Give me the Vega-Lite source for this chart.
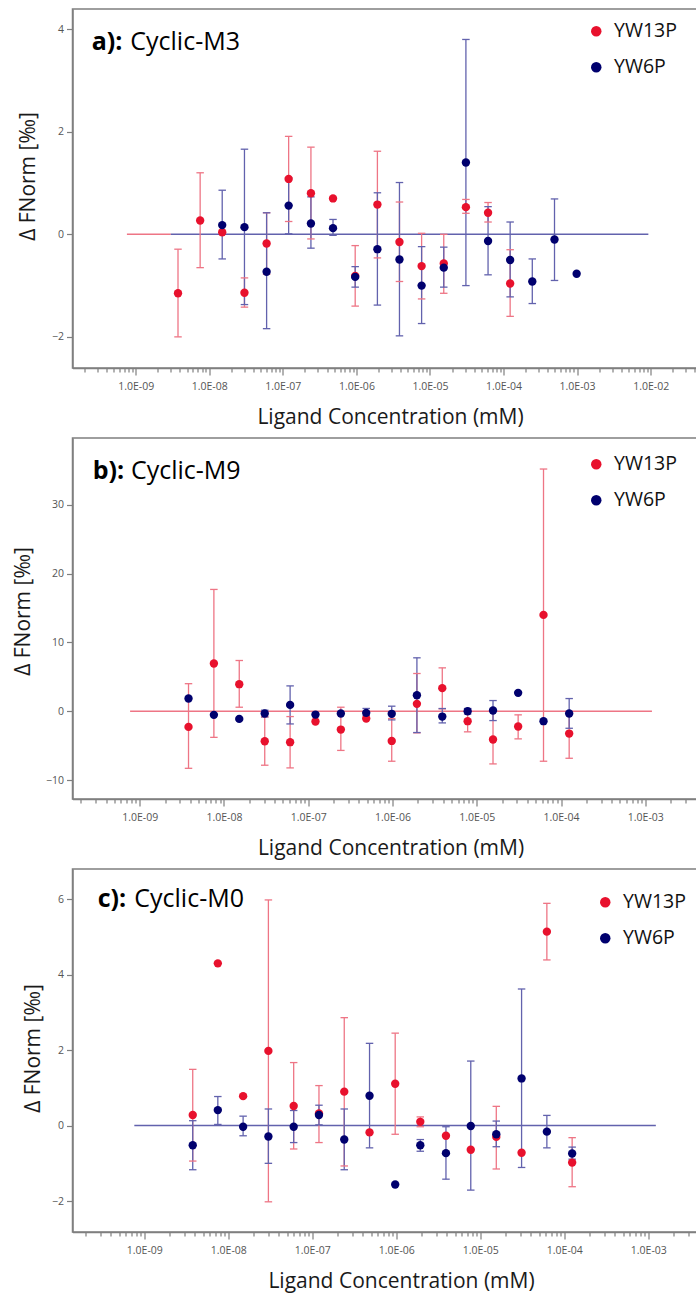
{
  "$schema": "https://vega.github.io/schema/vega-lite/v6.json",
  "background": "white",
  "padding": {"left": 11.5, "top": 8, "right": 0, "bottom": 0},
  "config": {
    "view": {"stroke": "#7f7f7f", "strokeWidth": 1.5},
    "axis": {"domainColor": "#7f7f7f", "domainWidth": 1.5, "tickColor": "#7f7f7f", "tickWidth": 1.2, "labelFont": "Open Sans", "labelFontSize": 10.5, "labelColor": "#555555", "titleFont": "Open Sans", "titleFontSize": 21, "titleFontWeight": "normal", "titleColor": "#1a1a1a", "grid": false}
  },
  "datasets": {
    "a_fit": [
      {"series": "YW13P", "x1": 7.6e-10, "x2": 3.0e-9, "y": 0},
      {"series": "YW6P", "x1": 3.0e-9, "x2": 9.3e-3, "y": 0}
    ],
    "a_pts": [
      {"conc": 3.76e-9, "series": "YW13P", "value": -1.15, "lo": -2.0, "hi": -0.29},
      {"conc": 7.52e-9, "series": "YW13P", "value": 0.27, "lo": -0.65, "hi": 1.2},
      {"conc": 1.5e-8, "series": "YW13P", "value": 0.04, "lo": null, "hi": null},
      {"conc": 3.01e-8, "series": "YW13P", "value": -1.14, "lo": -1.42, "hi": -0.85},
      {"conc": 6.02e-8, "series": "YW13P", "value": -0.18, "lo": -0.78, "hi": 0.42},
      {"conc": 1.2e-7, "series": "YW13P", "value": 1.08, "lo": 0.25, "hi": 1.91},
      {"conc": 2.41e-7, "series": "YW13P", "value": 0.8, "lo": -0.09, "hi": 1.7},
      {"conc": 4.81e-7, "series": "YW13P", "value": 0.7, "lo": null, "hi": null},
      {"conc": 9.63e-7, "series": "YW13P", "value": -0.81, "lo": -1.4, "hi": -0.22},
      {"conc": 1.93e-6, "series": "YW13P", "value": 0.58, "lo": -0.46, "hi": 1.62},
      {"conc": 3.85e-6, "series": "YW13P", "value": -0.15, "lo": -0.92, "hi": 0.63},
      {"conc": 7.7e-6, "series": "YW13P", "value": -0.62, "lo": -1.26, "hi": 0.02},
      {"conc": 1.54e-5, "series": "YW13P", "value": -0.57, "lo": -1.15, "hi": 0.0},
      {"conc": 3.08e-5, "series": "YW13P", "value": 0.53, "lo": 0.41, "hi": 0.68},
      {"conc": 6.16e-5, "series": "YW13P", "value": 0.42, "lo": 0.24, "hi": 0.62},
      {"conc": 1.23e-4, "series": "YW13P", "value": -0.96, "lo": -1.6, "hi": -0.3},
      {"conc": 1.5e-8, "series": "YW6P", "value": 0.18, "lo": -0.48, "hi": 0.86},
      {"conc": 3.01e-8, "series": "YW6P", "value": 0.14, "lo": -1.37, "hi": 1.66},
      {"conc": 6.02e-8, "series": "YW6P", "value": -0.73, "lo": -1.84, "hi": 0.42},
      {"conc": 1.2e-7, "series": "YW6P", "value": 0.56, "lo": 0.01, "hi": 1.1},
      {"conc": 2.41e-7, "series": "YW6P", "value": 0.21, "lo": -0.27, "hi": 0.73},
      {"conc": 4.81e-7, "series": "YW6P", "value": 0.12, "lo": -0.02, "hi": 0.29},
      {"conc": 9.63e-7, "series": "YW6P", "value": -0.83, "lo": -1.03, "hi": -0.63},
      {"conc": 1.93e-6, "series": "YW6P", "value": -0.29, "lo": -1.38, "hi": 0.81},
      {"conc": 3.85e-6, "series": "YW6P", "value": -0.49, "lo": -1.98, "hi": 1.01},
      {"conc": 7.7e-6, "series": "YW6P", "value": -1.0, "lo": -1.74, "hi": -0.24},
      {"conc": 1.54e-5, "series": "YW6P", "value": -0.65, "lo": -1.03, "hi": -0.25},
      {"conc": 3.08e-5, "series": "YW6P", "value": 1.4, "lo": -1.0, "hi": 3.8},
      {"conc": 6.16e-5, "series": "YW6P", "value": -0.13, "lo": -0.79, "hi": 0.54},
      {"conc": 1.23e-4, "series": "YW6P", "value": -0.5, "lo": -1.22, "hi": 0.24},
      {"conc": 2.46e-4, "series": "YW6P", "value": -0.92, "lo": -1.35, "hi": -0.48},
      {"conc": 4.93e-4, "series": "YW6P", "value": -0.1, "lo": -0.9, "hi": 0.69},
      {"conc": 9.86e-4, "series": "YW6P", "value": -0.77, "lo": null, "hi": null}
    ],
    "b_fit": [
      {"series": "YW13P", "x1": 7.7e-10, "x2": 1.2e-3, "y": 0}
    ],
    "b_pts": [
      {"conc": 3.8e-9, "series": "YW13P", "value": -2.28, "lo": -8.3, "hi": 4.0},
      {"conc": 7.6e-9, "series": "YW13P", "value": 6.93, "lo": -3.8, "hi": 17.7},
      {"conc": 1.52e-8, "series": "YW13P", "value": 3.93, "lo": 0.58, "hi": 7.37},
      {"conc": 3.05e-8, "series": "YW13P", "value": -4.36, "lo": -7.85, "hi": -0.8},
      {"conc": 6.1e-8, "series": "YW13P", "value": -4.5, "lo": -8.24, "hi": -0.78},
      {"conc": 1.22e-7, "series": "YW13P", "value": -1.5, "lo": null, "hi": null},
      {"conc": 2.44e-7, "series": "YW13P", "value": -2.67, "lo": -5.7, "hi": 0.58},
      {"conc": 4.88e-7, "series": "YW13P", "value": -1.07, "lo": null, "hi": null},
      {"conc": 9.8e-7, "series": "YW13P", "value": -4.32, "lo": -7.27, "hi": -1.07},
      {"conc": 1.95e-6, "series": "YW13P", "value": 1.07, "lo": -3.15, "hi": 5.48},
      {"conc": 3.9e-6, "series": "YW13P", "value": 3.35, "lo": 0.34, "hi": 6.3},
      {"conc": 7.8e-6, "series": "YW13P", "value": -1.45, "lo": -3.0, "hi": 0.1},
      {"conc": 1.56e-5, "series": "YW13P", "value": -4.12, "lo": -7.66, "hi": 0.0},
      {"conc": 3.1e-5, "series": "YW13P", "value": -2.23, "lo": -4.02, "hi": -0.53},
      {"conc": 6.2e-5, "series": "YW13P", "value": 14.0, "lo": -7.27, "hi": 35.2},
      {"conc": 1.25e-4, "series": "YW13P", "value": -3.25, "lo": -6.84, "hi": -0.15},
      {"conc": 3.8e-9, "series": "YW6P", "value": 1.84, "lo": null, "hi": null},
      {"conc": 7.6e-9, "series": "YW6P", "value": -0.53, "lo": null, "hi": null},
      {"conc": 1.52e-8, "series": "YW6P", "value": -1.12, "lo": null, "hi": null},
      {"conc": 3.05e-8, "series": "YW6P", "value": -0.34, "lo": -0.85, "hi": 0.15},
      {"conc": 6.1e-8, "series": "YW6P", "value": 0.92, "lo": -1.85, "hi": 3.68},
      {"conc": 1.22e-7, "series": "YW6P", "value": -0.49, "lo": null, "hi": null},
      {"conc": 2.44e-7, "series": "YW6P", "value": -0.34, "lo": null, "hi": null},
      {"conc": 4.88e-7, "series": "YW6P", "value": -0.24, "lo": -0.6, "hi": 0.4},
      {"conc": 9.8e-7, "series": "YW6P", "value": -0.38, "lo": -1.26, "hi": 0.73},
      {"conc": 1.95e-6, "series": "YW6P", "value": 2.33, "lo": -3.1, "hi": 7.76},
      {"conc": 3.9e-6, "series": "YW6P", "value": -0.78, "lo": -1.7, "hi": 0.39},
      {"conc": 7.8e-6, "series": "YW6P", "value": 0.0, "lo": -0.4, "hi": 0.4},
      {"conc": 1.56e-5, "series": "YW6P", "value": 0.1, "lo": -1.36, "hi": 1.55},
      {"conc": 3.1e-5, "series": "YW6P", "value": 2.67, "lo": null, "hi": null},
      {"conc": 6.2e-5, "series": "YW6P", "value": -1.45, "lo": null, "hi": null},
      {"conc": 1.25e-4, "series": "YW6P", "value": -0.34, "lo": -2.48, "hi": 1.84}
    ],
    "c_fit": [
      {"series": "YW6P", "x1": 7.6e-10, "x2": 1.23e-3, "y": 0}
    ],
    "c_pts": [
      {"conc": 3.77e-9, "series": "YW13P", "value": 0.28, "lo": -0.94, "hi": 1.49},
      {"conc": 7.5e-9, "series": "YW13P", "value": 4.3, "lo": null, "hi": null},
      {"conc": 1.5e-8, "series": "YW13P", "value": 0.78, "lo": null, "hi": null},
      {"conc": 3.0e-8, "series": "YW13P", "value": 1.98, "lo": -2.02, "hi": 5.98},
      {"conc": 6.0e-8, "series": "YW13P", "value": 0.52, "lo": -0.62, "hi": 1.67},
      {"conc": 1.2e-7, "series": "YW13P", "value": 0.32, "lo": -0.45, "hi": 1.06},
      {"conc": 2.4e-7, "series": "YW13P", "value": 0.9, "lo": -1.07, "hi": 2.86},
      {"conc": 4.8e-7, "series": "YW13P", "value": -0.18, "lo": null, "hi": null},
      {"conc": 9.7e-7, "series": "YW13P", "value": 1.11, "lo": -0.23, "hi": 2.45},
      {"conc": 1.93e-6, "series": "YW13P", "value": 0.1, "lo": -0.03, "hi": 0.23},
      {"conc": 3.9e-6, "series": "YW13P", "value": -0.27, "lo": null, "hi": null},
      {"conc": 7.7e-6, "series": "YW13P", "value": -0.64, "lo": null, "hi": null},
      {"conc": 1.55e-5, "series": "YW13P", "value": -0.3, "lo": -1.15, "hi": 0.51},
      {"conc": 3.1e-5, "series": "YW13P", "value": -0.72, "lo": null, "hi": null},
      {"conc": 6.2e-5, "series": "YW13P", "value": 5.14, "lo": 4.39, "hi": 5.89},
      {"conc": 1.24e-4, "series": "YW13P", "value": -0.98, "lo": -1.62, "hi": -0.32},
      {"conc": 3.77e-9, "series": "YW6P", "value": -0.52, "lo": -1.17, "hi": 0.13},
      {"conc": 7.5e-9, "series": "YW6P", "value": 0.41, "lo": 0.03, "hi": 0.77},
      {"conc": 1.5e-8, "series": "YW6P", "value": -0.03, "lo": -0.27, "hi": 0.25},
      {"conc": 3.0e-8, "series": "YW6P", "value": -0.29, "lo": -1.0, "hi": 0.44},
      {"conc": 6.0e-8, "series": "YW6P", "value": -0.03, "lo": -0.45, "hi": 0.4},
      {"conc": 1.2e-7, "series": "YW6P", "value": 0.28, "lo": 0.02, "hi": 0.54},
      {"conc": 2.4e-7, "series": "YW6P", "value": -0.37, "lo": -1.17, "hi": 0.44},
      {"conc": 4.8e-7, "series": "YW6P", "value": 0.79, "lo": -0.59, "hi": 2.18},
      {"conc": 9.7e-7, "series": "YW6P", "value": -1.56, "lo": null, "hi": null},
      {"conc": 1.93e-6, "series": "YW6P", "value": -0.52, "lo": -0.68, "hi": -0.37},
      {"conc": 3.9e-6, "series": "YW6P", "value": -0.73, "lo": -1.42, "hi": -0.03},
      {"conc": 7.7e-6, "series": "YW6P", "value": -0.01, "lo": -1.71, "hi": 1.71},
      {"conc": 1.55e-5, "series": "YW6P", "value": -0.23, "lo": -0.56, "hi": 0.12},
      {"conc": 3.1e-5, "series": "YW6P", "value": 1.25, "lo": -1.11, "hi": 3.62},
      {"conc": 6.2e-5, "series": "YW6P", "value": -0.16, "lo": -0.59, "hi": 0.27},
      {"conc": 1.24e-4, "series": "YW6P", "value": -0.74, "lo": -0.89, "hi": -0.57}
    ]
  },
  "columns": 1,
  "spacing": 8,
  "concat": [
    {
      "width": 627, "height": 359,
      "layer": [
        {
          "data": {"name": "a_fit"},
          "mark": {"type": "rule", "strokeWidth": 1.5},
          "encoding": {
            "x": {"field": "x1", "type": "quantitative",
              "scale": {"type": "log", "domain": [1.384e-10, 0.0461], "nice": false},
              "axis": {"title": "Ligand Concentration (mM)", "titlePadding": 15, "titleX": 317.5, "labelPadding": 6, "labelOverlap": false, "labelFlush": false, "labelBound": false,
                "values": [2e-10,3e-10,4e-10,5e-10,6e-10,7e-10,8e-10,9e-10,1e-9,2e-9,3e-9,4e-9,5e-9,6e-9,7e-9,8e-9,9e-9,1e-8,2e-8,3e-8,4e-8,5e-8,6e-8,7e-8,8e-8,9e-8,1e-7,2e-7,3e-7,4e-7,5e-7,6e-7,7e-7,8e-7,9e-7,1e-6,2e-6,3e-6,4e-6,5e-6,6e-6,7e-6,8e-6,9e-6,1e-5,2e-5,3e-5,4e-5,5e-5,6e-5,7e-5,8e-5,9e-5,1e-4,2e-4,3e-4,4e-4,5e-4,6e-4,7e-4,8e-4,9e-4,1e-3,2e-3,3e-3,4e-3,5e-3,6e-3,7e-3,8e-3,9e-3,1e-2,2e-2,3e-2,4e-2],
                "tickSize": {"condition": {"test": "abs(log(datum.value)/LN10 - round(log(datum.value)/LN10)) < 0.01", "value": 7}, "value": 4},
                "labelExpr": "abs(log(datum.value)/LN10 - round(log(datum.value)/LN10)) < 0.01 ? '1.0E-' + (abs(round(log(datum.value)/LN10)) < 10 ? '0' : '') + abs(round(log(datum.value)/LN10)) : ''"}},
            "x2": {"field": "x2"},
            "y": {"field": "y", "type": "quantitative",
              "scale": {"domain": [-2.607, 4.394], "nice": false, "zero": false},
              "axis": {"title": "Δ FNorm [‰]", "values": [-2, 0, 2, 4], "tickSize": 6, "labelPadding": 3, "minExtent": 30, "maxExtent": 30, "titlePadding": 4, "titleY": 167}},
            "color": {"condition": {"test": "datum.series == 'YW13P'", "value": "#ee7585"}, "value": "#6262ad"}
          }
        },
        {
          "data": {"name": "a_pts"},
          "mark": {"type": "rule", "strokeWidth": 1.3},
          "encoding": {
            "x": {"field": "conc", "type": "quantitative"},
            "y": {"field": "lo", "type": "quantitative"},
            "y2": {"field": "hi"},
            "color": {"condition": {"test": "datum.series == 'YW13P'", "value": "#ee7585"}, "value": "#6262ad"}
          }
        },
        {
          "data": {"name": "a_pts"},
          "mark": {"type": "point", "shape": "M-1,0L1,0", "filled": false, "size": 56, "strokeWidth": 1.3, "opacity": 1},
          "encoding": {
            "x": {"field": "conc", "type": "quantitative"},
            "y": {"field": "lo", "type": "quantitative"},
            "color": {"condition": {"test": "datum.series == 'YW13P'", "value": "#ee7585"}, "value": "#6262ad"}
          }
        },
        {
          "data": {"name": "a_pts"},
          "mark": {"type": "point", "shape": "M-1,0L1,0", "filled": false, "size": 56, "strokeWidth": 1.3, "opacity": 1},
          "encoding": {
            "x": {"field": "conc", "type": "quantitative"},
            "y": {"field": "hi", "type": "quantitative"},
            "color": {"condition": {"test": "datum.series == 'YW13P'", "value": "#ee7585"}, "value": "#6262ad"}
          }
        },
        {
          "data": {"name": "a_pts"},
          "mark": {"type": "point", "filled": true, "size": 70, "opacity": 1},
          "encoding": {
            "x": {"field": "conc", "type": "quantitative"},
            "y": {"field": "value", "type": "quantitative"},
            "color": {"field": "series", "type": "nominal", "scale": {"domain": ["YW13P", "YW6P"], "range": ["#e8112d", "#00006e"]},
              "legend": {"orient": "none", "legendX": 514, "legendY": 12.5, "title": null, "symbolType": "circle", "symbolSize": 110, "symbolStrokeWidth": 0, "labelFont": "Open Sans", "labelFontSize": 19.5, "labelColor": "#111111", "labelOffset": 8, "rowPadding": 15}}
          }
        },
        {
          "data": {"values": [{}]},
          "mark": {"type": "text", "font": "Open Sans", "fontSize": 25, "fontWeight": "bold", "align": "left", "baseline": "alphabetic", "color": "#000000"},
          "encoding": {"x": {"datum": 2.52e-10, "type": "quantitative"}, "y": {"datum": 3.6, "type": "quantitative"}, "text": {"value": "a):"}}
        },
        {
          "data": {"values": [{}]},
          "mark": {"type": "text", "font": "Open Sans", "fontSize": 25, "align": "left", "baseline": "alphabetic", "color": "#000000"},
          "encoding": {"x": {"datum": 8.45e-10, "type": "quantitative"}, "y": {"datum": 3.6, "type": "quantitative"}, "text": {"value": "Cyclic-M3"}}
        }
      ]
    },
    {
      "width": 627, "height": 361,
      "layer": [
        {
          "data": {"name": "b_fit"},
          "mark": {"type": "rule", "strokeWidth": 1.5},
          "encoding": {
            "x": {"field": "x1", "type": "quantitative",
              "scale": {"type": "log", "domain": [1.596e-10, 0.0044], "nice": false},
              "axis": {"title": "Ligand Concentration (mM)", "titlePadding": 15, "titleX": 318, "labelPadding": 6, "labelOverlap": false, "labelFlush": false, "labelBound": false,
                "values": [2e-10,3e-10,4e-10,5e-10,6e-10,7e-10,8e-10,9e-10,1e-9,2e-9,3e-9,4e-9,5e-9,6e-9,7e-9,8e-9,9e-9,1e-8,2e-8,3e-8,4e-8,5e-8,6e-8,7e-8,8e-8,9e-8,1e-7,2e-7,3e-7,4e-7,5e-7,6e-7,7e-7,8e-7,9e-7,1e-6,2e-6,3e-6,4e-6,5e-6,6e-6,7e-6,8e-6,9e-6,1e-5,2e-5,3e-5,4e-5,5e-5,6e-5,7e-5,8e-5,9e-5,1e-4,2e-4,3e-4,4e-4,5e-4,6e-4,7e-4,8e-4,9e-4,1e-3,2e-3,3e-3,4e-3],
                "tickSize": {"condition": {"test": "abs(log(datum.value)/LN10 - round(log(datum.value)/LN10)) < 0.01", "value": 7}, "value": 4},
                "labelExpr": "abs(log(datum.value)/LN10 - round(log(datum.value)/LN10)) < 0.01 ? '1.0E-' + (abs(round(log(datum.value)/LN10)) < 10 ? '0' : '') + abs(round(log(datum.value)/LN10)) : ''"}},
            "x2": {"field": "x2"},
            "y": {"field": "y", "type": "quantitative",
              "scale": {"domain": [-12.76, 39.71], "nice": false, "zero": false},
              "axis": {"title": "Δ FNorm [‰]", "values": [-10, 0, 10, 20, 30], "tickSize": 6, "labelPadding": 3, "minExtent": 35, "maxExtent": 35, "titlePadding": 4, "titleY": 173}},
            "color": {"condition": {"test": "datum.series == 'YW13P'", "value": "#ee7585"}, "value": "#6262ad"}
          }
        },
        {
          "data": {"name": "b_pts"},
          "mark": {"type": "rule", "strokeWidth": 1.3},
          "encoding": {
            "x": {"field": "conc", "type": "quantitative"},
            "y": {"field": "lo", "type": "quantitative"},
            "y2": {"field": "hi"},
            "color": {"condition": {"test": "datum.series == 'YW13P'", "value": "#ee7585"}, "value": "#6262ad"}
          }
        },
        {
          "data": {"name": "b_pts"},
          "mark": {"type": "point", "shape": "M-1,0L1,0", "filled": false, "size": 56, "strokeWidth": 1.3, "opacity": 1},
          "encoding": {
            "x": {"field": "conc", "type": "quantitative"},
            "y": {"field": "lo", "type": "quantitative"},
            "color": {"condition": {"test": "datum.series == 'YW13P'", "value": "#ee7585"}, "value": "#6262ad"}
          }
        },
        {
          "data": {"name": "b_pts"},
          "mark": {"type": "point", "shape": "M-1,0L1,0", "filled": false, "size": 56, "strokeWidth": 1.3, "opacity": 1},
          "encoding": {
            "x": {"field": "conc", "type": "quantitative"},
            "y": {"field": "hi", "type": "quantitative"},
            "color": {"condition": {"test": "datum.series == 'YW13P'", "value": "#ee7585"}, "value": "#6262ad"}
          }
        },
        {
          "data": {"name": "b_pts"},
          "mark": {"type": "point", "filled": true, "size": 70, "opacity": 1},
          "encoding": {
            "x": {"field": "conc", "type": "quantitative"},
            "y": {"field": "value", "type": "quantitative"},
            "color": {"field": "series", "type": "nominal", "scale": {"domain": ["YW13P", "YW6P"], "range": ["#e8112d", "#00006e"]},
              "legend": {"orient": "none", "legendX": 514, "legendY": 16.5, "title": null, "symbolType": "circle", "symbolSize": 110, "symbolStrokeWidth": 0, "labelFont": "Open Sans", "labelFontSize": 19.5, "labelColor": "#111111", "labelOffset": 8, "rowPadding": 15}}
          }
        },
        {
          "data": {"values": [{}]},
          "mark": {"type": "text", "font": "Open Sans", "fontSize": 25, "fontWeight": "bold", "align": "left", "baseline": "alphabetic", "color": "#000000"},
          "encoding": {"x": {"datum": 2.77e-10, "type": "quantitative"}, "y": {"datum": 33.8, "type": "quantitative"}, "text": {"value": "b):"}}
        },
        {
          "data": {"values": [{}]},
          "mark": {"type": "text", "font": "Open Sans", "fontSize": 25, "align": "left", "baseline": "alphabetic", "color": "#000000"},
          "encoding": {"x": {"datum": 7.88e-10, "type": "quantitative"}, "y": {"datum": 33.8, "type": "quantitative"}, "text": {"value": "Cyclic-M9"}}
        }
      ]
    },
    {
      "width": 627, "height": 363,
      "layer": [
        {
          "data": {"name": "c_fit"},
          "mark": {"type": "rule", "strokeWidth": 1.5},
          "encoding": {
            "x": {"field": "x1", "type": "quantitative",
              "scale": {"type": "log", "domain": [1.396e-10, 0.00407], "nice": false},
              "axis": {"title": "Ligand Concentration (mM)", "titlePadding": 15, "titleX": 328.5, "labelPadding": 6, "labelOverlap": false, "labelFlush": false, "labelBound": false,
                "values": [2e-10,3e-10,4e-10,5e-10,6e-10,7e-10,8e-10,9e-10,1e-9,2e-9,3e-9,4e-9,5e-9,6e-9,7e-9,8e-9,9e-9,1e-8,2e-8,3e-8,4e-8,5e-8,6e-8,7e-8,8e-8,9e-8,1e-7,2e-7,3e-7,4e-7,5e-7,6e-7,7e-7,8e-7,9e-7,1e-6,2e-6,3e-6,4e-6,5e-6,6e-6,7e-6,8e-6,9e-6,1e-5,2e-5,3e-5,4e-5,5e-5,6e-5,7e-5,8e-5,9e-5,1e-4,2e-4,3e-4,4e-4,5e-4,6e-4,7e-4,8e-4,9e-4,1e-3,2e-3,3e-3,4e-3],
                "tickSize": {"condition": {"test": "abs(log(datum.value)/LN10 - round(log(datum.value)/LN10)) < 0.01", "value": 7}, "value": 4},
                "labelExpr": "abs(log(datum.value)/LN10 - round(log(datum.value)/LN10)) < 0.01 ? '1.0E-' + (abs(round(log(datum.value)/LN10)) < 10 ? '0' : '') + abs(round(log(datum.value)/LN10)) : ''"}},
            "x2": {"field": "x2"},
            "y": {"field": "y", "type": "quantitative",
              "scale": {"domain": [-2.82, 6.8], "nice": false, "zero": false},
              "axis": {"title": "Δ FNorm [‰]", "values": [-2, 0, 2, 4, 6], "tickSize": 6, "labelPadding": 3, "minExtent": 25, "maxExtent": 25, "titlePadding": 4, "titleY": 179}},
            "color": {"condition": {"test": "datum.series == 'YW13P'", "value": "#ee7585"}, "value": "#6262ad"}
          }
        },
        {
          "data": {"name": "c_pts"},
          "mark": {"type": "rule", "strokeWidth": 1.3},
          "encoding": {
            "x": {"field": "conc", "type": "quantitative"},
            "y": {"field": "lo", "type": "quantitative"},
            "y2": {"field": "hi"},
            "color": {"condition": {"test": "datum.series == 'YW13P'", "value": "#ee7585"}, "value": "#6262ad"}
          }
        },
        {
          "data": {"name": "c_pts"},
          "mark": {"type": "point", "shape": "M-1,0L1,0", "filled": false, "size": 56, "strokeWidth": 1.3, "opacity": 1},
          "encoding": {
            "x": {"field": "conc", "type": "quantitative"},
            "y": {"field": "lo", "type": "quantitative"},
            "color": {"condition": {"test": "datum.series == 'YW13P'", "value": "#ee7585"}, "value": "#6262ad"}
          }
        },
        {
          "data": {"name": "c_pts"},
          "mark": {"type": "point", "shape": "M-1,0L1,0", "filled": false, "size": 56, "strokeWidth": 1.3, "opacity": 1},
          "encoding": {
            "x": {"field": "conc", "type": "quantitative"},
            "y": {"field": "hi", "type": "quantitative"},
            "color": {"condition": {"test": "datum.series == 'YW13P'", "value": "#ee7585"}, "value": "#6262ad"}
          }
        },
        {
          "data": {"name": "c_pts"},
          "mark": {"type": "point", "filled": true, "size": 70, "opacity": 1},
          "encoding": {
            "x": {"field": "conc", "type": "quantitative"},
            "y": {"field": "value", "type": "quantitative"},
            "color": {"field": "series", "type": "nominal", "scale": {"domain": ["YW13P", "YW6P"], "range": ["#e8112d", "#00006e"]},
              "legend": {"orient": "none", "legendX": 523, "legendY": 23.5, "title": null, "symbolType": "circle", "symbolSize": 110, "symbolStrokeWidth": 0, "labelFont": "Open Sans", "labelFontSize": 19.5, "labelColor": "#111111", "labelOffset": 8, "rowPadding": 15}}
          }
        },
        {
          "data": {"values": [{}]},
          "mark": {"type": "text", "font": "Open Sans", "fontSize": 25, "fontWeight": "bold", "align": "left", "baseline": "alphabetic", "color": "#000000"},
          "encoding": {"x": {"datum": 2.79e-10, "type": "quantitative"}, "y": {"datum": 5.78, "type": "quantitative"}, "text": {"value": "c):"}}
        },
        {
          "data": {"values": [{}]},
          "mark": {"type": "text", "font": "Open Sans", "fontSize": 25, "align": "left", "baseline": "alphabetic", "color": "#000000"},
          "encoding": {"x": {"datum": 7.6e-10, "type": "quantitative"}, "y": {"datum": 5.78, "type": "quantitative"}, "text": {"value": "Cyclic-M0"}}
        }
      ]
    }
  ],
  "resolve": {
    "scale": {"x": "independent", "y": "independent", "color": "independent"},
    "legend": {"color": "independent"}
  }
}
